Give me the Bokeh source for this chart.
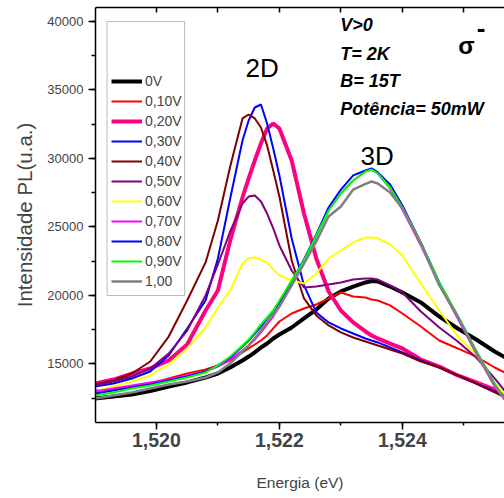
from bokeh.plotting import figure
from bokeh.models import (Range1d, LinearAxis, SingleIntervalTicker, CustomJSTickFormatter,
                          Legend, LegendItem, Label, BoxAnnotation)
from bokeh.embed import file_html
from bokeh.resources import INLINE

# Energy axis (eV)
energia = [1.5190, 1.5193, 1.5196, 1.5199, 1.5202, 1.5205, 1.5208, 1.5210, 1.5212, 1.5214,
           1.5215, 1.5216, 1.5217, 1.5218, 1.5219, 1.5220, 1.5222, 1.5224, 1.5226, 1.5228,
           1.5230, 1.5232, 1.5234, 1.5235, 1.5236, 1.5238, 1.5240, 1.5243, 1.5246, 1.5249,
           1.5252, 1.5255, 1.5257]

# PL intensity (u.a.) for each bias voltage
i_0V = [12470, 12610, 12760, 13010, 13340, 13640, 14000, 14290, 14730, 15240, 15530, 15830,
        16190, 16480, 16850, 17140, 17650, 18310, 18960, 19770, 20280, 20640, 20940, 21040,
        21010, 20640, 20200, 19480, 18450, 17580, 16770, 15900, 15390]
i_010 = [13050, 13160, 13340, 13560, 13930, 14290, 14580, 14880, 15240, 15830, 16120, 16410,
         16700, 17070, 17580, 18090, 18670, 19040, 19330, 19770, 20210, 19910, 19840, 19690,
         19620, 19260, 18670, 17720, 16700, 16120, 15530, 14730, 14290]
i_020 = [13560, 13850, 14290, 14660, 15240, 16410, 18890, 20350, 24000, 27140, 28530, 29840,
         31080, 32180, 32540, 32180, 29840, 25970, 22690, 20280, 18890, 18020, 17360, 17070,
         16850, 16480, 16120, 15310, 14800, 14150, 13640, 13120, 12610]
i_030 = [13340, 13560, 13930, 14440, 15610, 17580, 19620, 22690, 27070, 31300, 32760, 33710,
         33930, 32540, 30720, 28750, 24150, 20720, 18750, 18020, 17580, 17210, 16850, 16700,
         16560, 16190, 15830, 15240, 14730, 14150, 13560, 12980, 12540]
i_040 = [13490, 13780, 14290, 15170, 16990, 19620, 22400, 25460, 29400, 32910, 33200, 32910,
         32250, 30940, 29110, 27210, 22540, 19770, 18530, 17800, 17290, 16920, 16630, 16480,
         16340, 16040, 15750, 15170, 14730, 14150, 13560, 12910, 12470]
i_050 = [13420, 13710, 14070, 14660, 15750, 17430, 19990, 22250, 24660, 26700, 27210, 27290,
         26850, 25970, 24880, 23640, 21810, 20570, 20640, 20790, 20940, 21150, 21230, 21230,
         21150, 20720, 20210, 18820, 17650, 16630, 15460, 13930, 12830]
i_060 = [12980, 13340, 13710, 14150, 14950, 16120, 17650, 19110, 20350, 22320, 22690, 22760,
         22610, 22400, 21880, 21450, 21080, 20860, 21590, 22690, 23270, 23860, 24220, 24220,
         24150, 23710, 22910, 20860, 18890, 16990, 15680, 13560, 12610]
i_070 = [12980, 13200, 13420, 13640, 13850, 14150, 14440, 14800, 15310, 15970, 16340, 16770,
         17290, 17870, 18450, 19180, 20790, 22540, 24290, 26190, 27430, 28380, 29040, 29180,
         28890, 27800, 26260, 23640, 20790, 18310, 15750, 13340, 12180]
i_080 = [12830, 13050, 13270, 13490, 13780, 14070, 14440, 14880, 15460, 16260, 16700, 17210,
         17720, 18310, 18820, 19480, 21010, 22610, 24440, 26410, 27720, 28750, 29110, 29260,
         28970, 28090, 26560, 23860, 20940, 18450, 15900, 13490, 12180]
i_090 = [12690, 12910, 13200, 13420, 13710, 14000, 14370, 14880, 15530, 16340, 16770, 17290,
         17870, 18380, 18890, 19620, 21080, 22540, 24370, 26190, 27430, 28380, 29040, 29180,
         28890, 27870, 26410, 23860, 20940, 18530, 15970, 13560, 12180]
i_100 = [12470, 12690, 12910, 13200, 13490, 13710, 14000, 14370, 15020, 15900, 16340, 16850,
         17430, 18020, 18600, 19180, 20720, 22320, 23930, 25750, 26480, 27720, 28130, 28310,
         28160, 27510, 26340, 23780, 20720, 18450, 15830, 13420, 12180]

labels = ["0V", "0,10V", "0,20V", "0,30V", "0,40V", "0,50V", "0,60V", "0,70V", "0,80V",
          "0,90V", "1,00"]
series = [i_0V, i_010, i_020, i_030, i_040, i_050, i_060, i_070, i_080, i_090, i_100]
colors = ["#000000", "#FF0000", "#FF0080", "#0000FF", "#800000", "#800080", "#FFFF00",
          "#FF00FF", "#0000FF", "#00FF00", "#808080"]
widths = [4, 2, 4, 2, 2, 2, 2, 2, 2, 2, 2.5]

FONT = "Liberation Sans"

p = figure(width=504, height=498, output_backend="svg", toolbar_location=None,
           x_range=Range1d(1.51901, 1.52566), y_range=Range1d(10715, 41010),
           min_border_left=95, min_border_right=0, min_border_top=7, min_border_bottom=76,
           x_axis_label="Energia (eV)", y_axis_label="Intensidade PL(u.a.)")
p.outline_line_color = None
p.xgrid.visible = False
p.ygrid.visible = False
p.background_fill_color = "white"
p.border_fill_color = "white"

# bottom axis
xa = p.xaxis[0]
xa.ticker = SingleIntervalTicker(interval=0.002, num_minor_ticks=2)
xa.formatter = CustomJSTickFormatter(code="return tick.toFixed(3).replace('.', ',');")
xa.major_tick_in = 0
xa.major_tick_out = 7
xa.minor_tick_in = 0
xa.minor_tick_out = 3
xa.axis_line_width = 1.5
xa.major_tick_line_width = 1.5
xa.minor_tick_line_width = 1.5
xa.major_label_text_font = FONT
xa.major_label_text_font_style = "bold"
xa.major_label_text_font_size = "19.5px"
xa.major_label_standoff = 3
xa.axis_label_text_font = FONT
xa.axis_label_text_font_style = "normal"
xa.axis_label_text_font_size = "15.5px"
xa.axis_label_standoff = 24

# left axis
ya = p.yaxis[0]
ya.ticker = SingleIntervalTicker(interval=5000, num_minor_ticks=2)
ya.major_tick_in = 0
ya.major_tick_out = 7
ya.minor_tick_in = 0
ya.minor_tick_out = 4
ya.axis_line_width = 1.5
ya.major_tick_line_width = 1.5
ya.minor_tick_line_width = 1.5
ya.major_label_text_font = FONT
ya.major_label_text_font_size = "13px"
ya.major_label_standoff = 5
ya.axis_label_text_font = FONT
ya.axis_label_text_font_style = "normal"
ya.axis_label_text_font_size = "20.5px"
ya.axis_label_standoff = 8

# top axis (ticks only, inward, no labels)
top = LinearAxis(ticker=SingleIntervalTicker(interval=0.001, num_minor_ticks=0),
                 major_tick_in=5, major_tick_out=0, minor_tick_line_color=None,
                 major_label_text_font_size="0px", major_label_text_color=None,
                 major_label_standoff=0, axis_line_width=1.5, major_tick_line_width=1.5)
p.add_layout(top, "above")

# legend frame (box with empty space above the entries, as in the original)
p.add_layout(BoxAnnotation(left=1.519198, right=1.520459, bottom=19986, top=39988,
                           fill_color="white", fill_alpha=1,
                           line_color="#222222", line_width=1))

items = []
for lab_, ys, c, w in zip(labels, series, colors, widths):
    r = p.line(energia, ys, line_color=c, line_width=w)
    items.append(LegendItem(label=lab_, renderers=[r]))

legend = Legend(items=items, location=(16, 131), margin=0, padding=0, spacing=0,
                glyph_width=31, glyph_height=20, label_height=20, label_standoff=3,
                label_text_font=FONT, label_text_font_size="14px",
                border_line_color=None, background_fill_alpha=0)
p.add_layout(legend)

def lab(x, y, text, size, style="normal", align="left", baseline="alphabetic"):
    p.add_layout(Label(x=x, y=y, text=text, text_font=FONT, text_font_size=size,
                       text_font_style=style, text_align=align, text_baseline=baseline,
                       text_color="black"))

lab(1.52145, 36630, "2D", "26px")
lab(1.52332, 30135, "3D", "26px")
lab(1.52299, 39745, "V>0", "18px", "bold italic")
lab(1.52299, 37630, "T= 2K", "18px", "bold italic")
lab(1.52299, 35680, "B= 15T", "18px", "bold italic")
lab(1.52299, 33635, "Potência= 50mW", "18px", "bold italic")
lab(1.52491, 38235, "σ", "24px", "bold")
lab(1.52521, 39550, "-", "26px", "bold", baseline="middle")

open("out.html", "w").write(file_html(p, INLINE))
